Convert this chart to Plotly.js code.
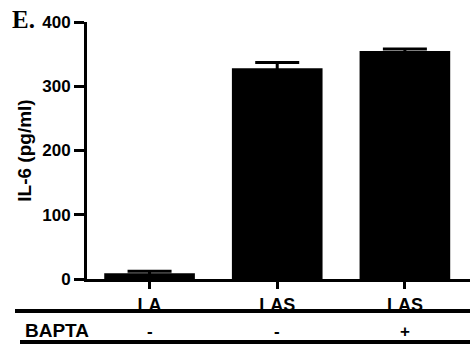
<!DOCTYPE html>
<html><head><meta charset="utf-8">
<script src="https://cdn.plot.ly/plotly-3.0.1.min.js"></script>
<style>html,body{margin:0;padding:0;background:#fff}#chart{width:470px;height:350px}</style>
</head><body><div id="chart"></div>
<script>
const categories = ['LA', 'LAS', 'LAS'];
const il6Values = [9, 328, 355];
const il6Errors = [3, 9, 3];
const baptaRow = ['-', '-', '+'];
const yTicks = [0, 100, 200, 300, 400];

const idx = categories.map((c, i) => i);
const font = 'Liberation Sans, Arial, sans-serif';

const trace = {
  type: 'bar', x: idx, y: il6Values,
  marker: {color: '#000', line: {width: 0}},
  width: 0.71,
  error_y: {type: 'data', array: il6Errors, visible: true, color: '#000', thickness: 3, width: 22},
  hoverinfo: 'none'
};

const M = {l: 87, r: 0, t: 22, b: 71};
const W = 470, H = 350;
const plotH = H - M.t - M.b;
function py(pix) { return (H - M.b - pix) / plotH; }
function px(pix) { return (pix - M.l) / (W - M.l - M.r); }

const annotations = baptaRow.map((t, i) => ({
  x: i, xref: 'x', y: py(331), yref: 'paper', yanchor: 'middle', showarrow: false,
  text: t, font: {family: font, size: 17, weight: 'bold', color: '#000'}
}));
annotations.push({
  text: 'BAPTA', xref: 'paper', yref: 'paper', x: px(23), y: py(330), xanchor: 'left', yanchor: 'middle',
  showarrow: false, font: {family: font, size: 19, weight: 'bold', color: '#000'}
});
annotations.push({
  text: 'E.', xref: 'paper', yref: 'paper', x: px(10), y: py(19), xanchor: 'left', yanchor: 'middle',
  showarrow: false, font: {family: 'Liberation Serif, Times New Roman, serif', size: 25, weight: 'bold', color: '#000'}
});

const layout = {
  width: W, height: H,
  margin: M,
  paper_bgcolor: '#fff', plot_bgcolor: '#fff',
  showlegend: false,
  xaxis: {
    range: [-0.49, 2.51], tickvals: idx, ticktext: categories,
    showline: true, linewidth: 3, linecolor: '#000', zeroline: false, showgrid: false,
    ticks: 'outside', ticklen: 7, tickwidth: 3, tickcolor: '#000',
    tickfont: {family: font, size: 18, weight: 'bold', color: '#000'}
  },
  yaxis: {
    range: [0, 400], tickvals: yTicks,
    showline: true, linewidth: 3, linecolor: '#000', zeroline: false, showgrid: false,
    ticks: 'outside', ticklen: 10, tickwidth: 3, tickcolor: '#000',
    tickfont: {family: font, size: 17, weight: 'bold', color: '#000'},
    title: {text: 'IL-6 (pg/ml)', font: {family: font, size: 19, weight: 'bold', color: '#000'}, standoff: 6}
  },
  shapes: [
    {type: 'line', xref: 'paper', yref: 'paper', x0: px(15), x1: 1, y0: py(311), y1: py(311), line: {color: '#000', width: 4}},
    {type: 'line', xref: 'paper', yref: 'paper', x0: px(20), x1: 1, y0: py(342), y1: py(342), line: {color: '#000', width: 4}}
  ],
  annotations: annotations
};

Plotly.newPlot('chart', [trace], layout, {displayModeBar: false, staticPlot: true});
</script></body></html>
